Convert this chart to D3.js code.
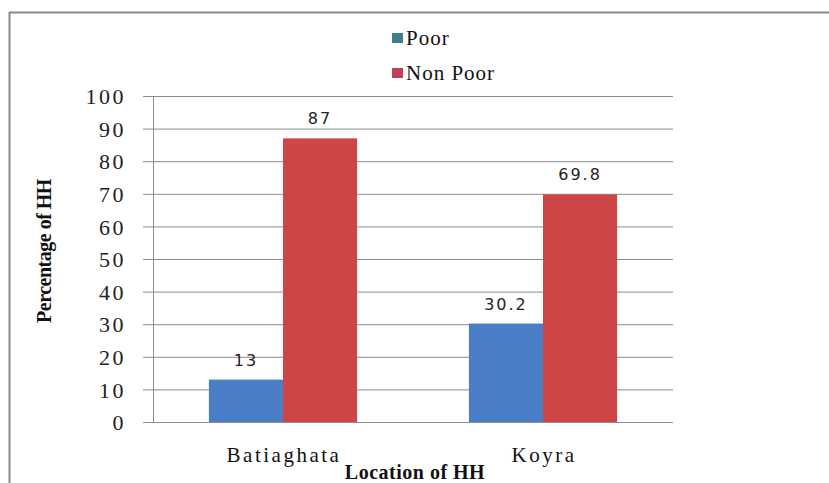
<!DOCTYPE html>
<html>
<head>
<meta charset="utf-8">
<script src="https://cdn.jsdelivr.net/npm/d3@7"></script>
<style>
  html, body { margin: 0; padding: 0; background: #fff; }
  svg { display: block; font-family: "Liberation Serif", "DejaVu Serif", serif; }
  .serif { font-family: "Liberation Serif", "DejaVu Serif", serif; }
</style>
</head>
<body>
<svg id="chart" width="829" height="483"></svg>
<script>
const categories = ["Batiaghata", "Koyra"];
const seriesNames = ["Poor", "Non Poor"];
const poorValues = [13, 30.2];
const nonPoorValues = [87, 69.8];
const yTicks = [0, 10, 20, 30, 40, 50, 60, 70, 80, 90, 100];
const valueLabels = [["13", "87"], ["30.2", "69.8"]];

const barColors = ["#4a7fc8", "#cd4545"];
const legendColors = ["#417f86", "#c0405a"];

(function () {
const svg = d3.select("#chart");
const W = 829, H = 483;
const pLeft = 153, pRight = 673, pTop = 96, pBottom = 422;

// frame
svg.append("rect").attr("x", 0).attr("y", 0).attr("width", W).attr("height", H).attr("fill", "#fff");
svg.append("line").attr("x1", 9).attr("x2", W).attr("y1", 12.5).attr("y2", 12.5)
  .attr("stroke", "#8a8a8a").attr("stroke-width", 2);
svg.append("line").attr("x1", 9.5).attr("x2", 9.5).attr("y1", 12).attr("y2", H)
  .attr("stroke", "#8a8a8a").attr("stroke-width", 2);

const x0 = d3.scaleBand().domain(categories).range([pLeft, pRight])
  .paddingInner(0.43).paddingOuter(0.215);
const x1 = d3.scaleBand().domain(seriesNames).range([0, x0.bandwidth()]);
const y = d3.scaleLinear().domain([0, 100]).range([pBottom, pTop]);

// gridlines + y axis
const yAxis = d3.axisLeft(y).tickValues(yTicks).tickSize(0).tickPadding(0).tickFormat(d3.format("d"));
const gy = svg.append("g").attr("transform", `translate(${pLeft - 10},0)`).call(yAxis)
  .attr("font-family", null).attr("font-size", null);
gy.select(".domain").remove();
gy.selectAll(".tick line").attr("stroke", "#8c8c8c").attr("stroke-width", 1).attr("x1", 0).attr("x2", pRight - pLeft + 10);
gy.selectAll(".tick text")
  .attr("class", "serif")
  .attr("x", -17)
  .attr("dy", "0.35em")
  .attr("fill", "#222")
  .style("font-size", "22px")
  .style("letter-spacing", "2.5px");
// y axis line
svg.append("line").attr("x1", pLeft + 0.5).attr("x2", pLeft + 0.5).attr("y1", pTop).attr("y2", pBottom)
  .attr("stroke", "#8c8c8c");

// bars
const rows = categories.map((c, i) => ({ cat: c, vals: [poorValues[i], nonPoorValues[i]], labels: valueLabels[i] }));
const groups = svg.append("g").selectAll("g").data(rows).join("g")
  .attr("transform", d => `translate(${x0(d.cat)},0)`);
groups.selectAll("rect").data(d => d.vals.map((v, j) => ({ v, s: seriesNames[j], j })))
  .join("rect")
  .attr("x", d => x1(d.s))
  .attr("y", d => y(d.v))
  .attr("width", x1.bandwidth())
  .attr("height", d => y(0) - y(d.v))
  .attr("fill", d => barColors[d.j]);
groups.selectAll("text").data(d => d.vals.map((v, j) => ({ v, s: seriesNames[j], l: d.labels[j] })))
  .join("text")
  .attr("x", d => x1(d.s) + x1.bandwidth() / 2)
  .attr("y", d => y(d.v) - 14)
  .attr("text-anchor", "middle")
  .attr("fill", "#222")
  .style("font-family", "'DejaVu Sans', sans-serif")
  .style("font-size", "16px")
  .style("letter-spacing", "2px")
  .text(d => d.l);

// category labels
svg.append("g").selectAll("text").data(categories).join("text")
  .attr("class", "serif")
  .attr("x", d => x0(d) + x0.bandwidth() / 2 + 1)
  .attr("y", 462)
  .attr("text-anchor", "middle")
  .attr("fill", "#111")
  .style("font-size", "21px")
  .style("letter-spacing", "2.5px")
  .text(d => d);

// axis titles
svg.append("text")
  .attr("class", "serif")
  .attr("x", (pLeft + pRight) / 2 + 2)
  .attr("y", 479)
  .attr("text-anchor", "middle")
  .attr("fill", "#111")
  .style("font-size", "20px")
  .style("font-weight", "bold")
  .style("letter-spacing", "0.5px")
  .text("Location of HH");
svg.append("text")
  .attr("class", "serif")
  .attr("transform", `translate(51,251) rotate(-90)`)
  .attr("text-anchor", "middle")
  .attr("fill", "#111")
  .style("font-size", "20px")
  .style("font-weight", "bold")
  .style("letter-spacing", "-0.5px")
  .text("Percentage of HH");

// legend
const lg = svg.append("g").selectAll("g").data(seriesNames).join("g")
  .attr("transform", (d, i) => `translate(392,${38 + i * 35})`);
lg.append("rect").attr("x", 0).attr("y", -5).attr("width", 11).attr("height", 10)
  .attr("fill", (d, i) => legendColors[i]);
lg.append("text").attr("class", "serif").attr("x", 14).attr("y", 0).attr("dy", "0.35em")
  .attr("fill", "#111")
  .style("font-size", "21px")
  .style("letter-spacing", "1px")
  .text(d => d);
})();
</script>
</body>
</html>
